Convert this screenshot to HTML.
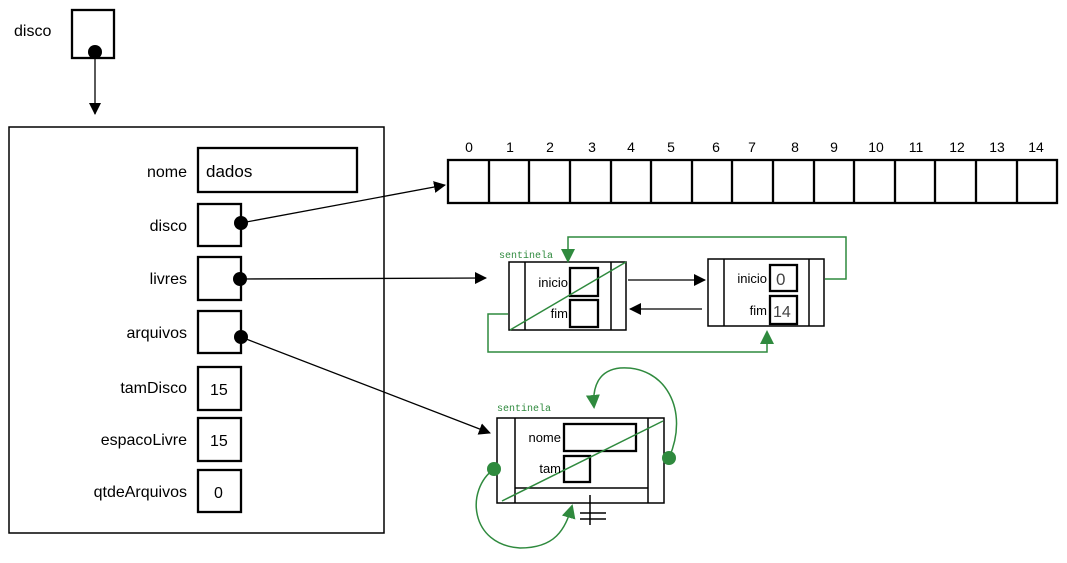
<!DOCTYPE html>
<html><head><meta charset="utf-8"><style>
body{margin:0;background:#fff;}
svg text{font-family:"Liberation Sans",sans-serif;}
svg text.mono{font-family:"Liberation Mono",monospace;font-size:10px;fill:#2f8a3e;}
</style></head><body>
<svg width="1067" height="558" viewBox="0 0 1067 558" xmlns="http://www.w3.org/2000/svg">
<defs>
<marker id="ab" markerWidth="12" markerHeight="12" refX="11" refY="6" orient="auto" markerUnits="userSpaceOnUse"><path d="M0,0 L12,6 L0,12 z" fill="#000"/></marker>
<marker id="ag" markerWidth="14" markerHeight="14" refX="12" refY="7" orient="auto" markerUnits="userSpaceOnUse"><path d="M0,0 L14,7 L0,14 z" fill="#2f8a3e"/></marker>
</defs>
<g fill="none" stroke="#000" stroke-width="2.3">
<rect x="72" y="10" width="42" height="48"/>
<rect x="9" y="127" width="375" height="406" stroke-width="1.5"/>
<rect x="198" y="148" width="159" height="44"/>
<rect x="198" y="204" width="43" height="42"/>
<rect x="198" y="257" width="43" height="43"/>
<rect x="198" y="311" width="43" height="42"/>
<rect x="198" y="367" width="43" height="43"/>
<rect x="198" y="418" width="43" height="43"/>
<rect x="198" y="470" width="43" height="42"/>
<rect x="448" y="160" width="609" height="43"/>
<path d="M489,160v43M529,160v43M570,160v43M611,160v43M651,160v43M692,160v43M732,160v43M773,160v43M814,160v43M854,160v43M895,160v43M935,160v43M976,160v43M1017,160v43"/>
<rect x="509" y="262" width="117" height="68" stroke-width="1.5"/>
<path d="M525,262v68M611,262v68" stroke-width="1.5"/>
<rect x="570" y="268" width="28" height="28"/>
<rect x="570" y="300" width="28" height="27"/>
<rect x="708" y="259" width="116" height="67" stroke-width="1.5"/>
<path d="M724,259v67M809,259v67" stroke-width="1.5"/>
<rect x="770" y="265" width="27" height="26"/>
<rect x="770" y="296" width="27" height="28"/>
<rect x="497" y="418" width="167" height="85" stroke-width="1.5"/>
<path d="M515,418v85M648,418v85M515,488h133" stroke-width="1.5"/>
<rect x="564" y="424" width="72" height="27"/>
<rect x="564" y="456" width="26" height="26"/>
<path d="M590,495v30M580,513h26M580,519h26" stroke-width="1.5"/>
</g>
<g stroke="#000" stroke-width="1.3" fill="none">
<path d="M95,52V114" marker-end="url(#ab)"/>
<path d="M241,223L445,185" marker-end="url(#ab)"/>
<path d="M240,279L486,278" marker-end="url(#ab)"/>
<path d="M241,337L490,433" marker-end="url(#ab)"/>
<path d="M628,280H705" marker-end="url(#ab)"/>
<path d="M702,309H630" marker-end="url(#ab)"/>
</g>
<g fill="#000"><circle cx="95" cy="52" r="7"/><circle cx="241" cy="223" r="7"/><circle cx="240" cy="279" r="7"/><circle cx="241" cy="337" r="7"/></g>
<g stroke="#2f8a3e" stroke-width="1.5" fill="none">
<path d="M510,330L626,262"/>
<path d="M825,279H846V237H568V261" marker-end="url(#ag)"/>
<path d="M508,314H488V352H767V332" marker-end="url(#ag)"/>
<path d="M502,501L663,421"/>
<path d="M669,458C690,410 665,365 620,368 C600,370 592,385 594,407" marker-end="url(#ag)"/>
<path d="M494,469C465,490 470,545 520,548 C555,548 565,530 572,506" marker-end="url(#ag)"/>
</g>
<g fill="#2f8a3e"><circle cx="494" cy="469" r="7"/><circle cx="669" cy="458" r="7"/></g>
<g font-size="16" fill="#000">
<text x="14" y="36">disco</text>
<g text-anchor="end">
<text x="187" y="177">nome</text><text x="187" y="231">disco</text><text x="187" y="284">livres</text>
<text x="187" y="338">arquivos</text><text x="187" y="393">tamDisco</text><text x="187" y="445">espacoLivre</text>
<text x="187" y="497">qtdeArquivos</text></g>
<text x="206" y="177" font-size="17">dados</text>
<text x="210" y="395">15</text><text x="210" y="446">15</text><text x="214" y="498">0</text>
<g text-anchor="middle" font-size="14">
<text x="469" y="152">0</text><text x="510" y="152">1</text><text x="550" y="152">2</text><text x="592" y="152">3</text><text x="631" y="152">4</text><text x="671" y="152">5</text><text x="716" y="152">6</text><text x="752" y="152">7</text><text x="795" y="152">8</text><text x="834" y="152">9</text><text x="876" y="152">10</text><text x="916" y="152">11</text><text x="957" y="152">12</text><text x="997" y="152">13</text><text x="1036" y="152">14</text></g>
<g font-size="13" text-anchor="end">
<text x="568" y="287">inicio</text><text x="568" y="318">fim</text>
<text x="767" y="283">inicio</text><text x="767" y="315">fim</text>
<text x="561" y="442">nome</text><text x="561" y="473">tam</text></g>
<text x="776" y="285" font-size="17" fill="#444">0</text><text x="773" y="317" font-size="16" fill="#444">14</text>
</g>
<text class="mono" x="499" y="258">sentinela</text>
<text class="mono" x="497" y="411">sentinela</text>
</svg>
</body></html>
